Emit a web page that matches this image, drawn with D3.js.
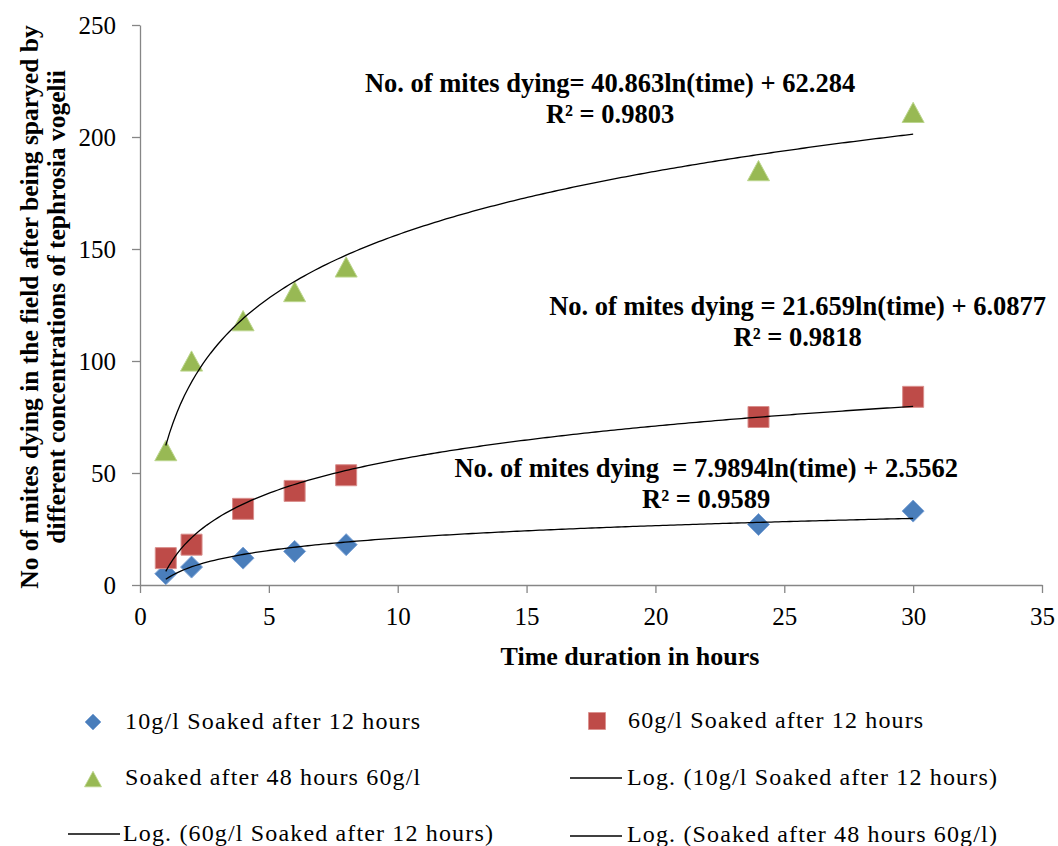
<!DOCTYPE html>
<html>
<head>
<meta charset="utf-8">
<script src="https://cdn.jsdelivr.net/npm/d3@7"></script>
<style>
  html, body { margin: 0; padding: 0; background: #fff; }
  svg { display: block; font-family: "Liberation Serif", "Times New Roman", serif; }
</style>
</head>
<body>
<svg id="chart" width="1058" height="846"></svg>
<script>
// Sampling times (hours)
const hours = [1, 2, 4, 6, 8, 24, 30];

// Mites dying per treatment
const mites10gSoak12 = [5, 8, 12, 15, 18, 27, 33];
const mites60gSoak12 = [12, 18, 34, 42, 49, 75, 84];
const mites60gSoak48 = [60, 100, 118, 131, 142, 185, 211];

// Logarithmic trend coefficients: y = a ln(x) + b
const trendSlope = [7.9894, 21.659, 40.863];
const trendIntercept = [2.5562, 6.0877, 62.284];
const trendR2 = ["0.9589", "0.9818", "0.9803"];

const seriesNames = [
  "10g/l Soaked after 12 hours",
  "60g/l Soaked after 12 hours",
  "Soaked after 48 hours 60g/l"
];
const equationTexts = [
  "No. of mites dying  = 7.9894ln(time) + 2.5562",
  "No. of mites dying = 21.659ln(time) + 6.0877",
  "No. of mites dying= 40.863ln(time) + 62.284"
];

const xTicks = [0, 5, 10, 15, 20, 25, 30, 35];
const yTicks = [0, 50, 100, 150, 200, 250];

const svg = d3.select("#chart");
const plotLeft = 140, plotRight = 1042, plotTop = 25, plotBottom = 585;

const x = d3.scaleLinear().domain([0, 35]).range([plotLeft, plotRight]);
const y = d3.scaleLinear().domain([0, 250]).range([plotBottom, plotTop]);

const axisColor = "#868686";

// Axes
const gx = svg.append("g").attr("transform", `translate(0,${plotBottom})`)
  .call(d3.axisBottom(x).tickValues(xTicks).tickSizeInner(8).tickSizeOuter(0).tickPadding(14));
const gy = svg.append("g").attr("transform", `translate(${plotLeft},0)`)
  .call(d3.axisLeft(y).tickValues(yTicks).tickSizeInner(8).tickSizeOuter(0).tickPadding(16));
[gx, gy].forEach(g => {
  g.select(".domain").attr("stroke", axisColor).attr("stroke-width", 1.3);
  g.selectAll(".tick line").attr("stroke", axisColor).attr("stroke-width", 1.3);
  g.selectAll(".tick text").attr("fill", "#000")
    .style("font-family", '"Liberation Serif", serif').style("font-size", "25px");
});

// Axis titles
svg.append("text")
  .attr("x", (plotLeft + plotRight) / 2 + 39).attr("y", 665)
  .attr("text-anchor", "middle")
  .style("font-weight", "bold").style("font-size", "26px")
  .text("Time duration in hours");

const yTitle = svg.append("text")
  .attr("transform", `translate(0,${(plotTop + plotBottom) / 2 + 2}) rotate(-90)`)
  .attr("text-anchor", "middle")
  .style("font-weight", "bold").style("font-size", "25.5px");
yTitle.append("tspan").attr("x", 0).attr("y", 38)
  .text("No of mites dying in the field after being sparyed by");
yTitle.append("tspan").attr("x", 0).attr("y", 65)
  .text("different concentrations of tephrosia vogelii");

// Marker shapes
const colors = ["#4a7ebb", "#be4b48", "#98b954"];
const strokes = ["#7da3d6", "#d98e8c", "#bcd68e"];
function markerPath(kind, s) {
  const h = s / 2;
  if (kind === 0) return `M0,${-h}L${h},0L0,${h}L${-h},0Z`;
  if (kind === 1) return `M${-h},${-h}H${h}V${h}H${-h}Z`;
  const th = s * 0.46;
  return `M0,${-th}L${h},${th}L${-h},${th}Z`;
}

const seriesValues = [mites10gSoak12, mites60gSoak12, mites60gSoak48];
const plot = svg.append("g");
seriesValues.forEach((vals, i) => {
  plot.append("g").selectAll("path")
    .data(hours.map((h, j) => [h, vals[j]]))
    .join("path")
    .attr("transform", d => `translate(${x(d[0])},${y(d[1])})`)
    .attr("d", markerPath(i, i === 1 ? 21 : 22))
    .attr("fill", colors[i])
    .attr("stroke", strokes[i]).attr("stroke-width", 1);
});

// Logarithmic trend lines
const line = d3.line().x(d => x(d[0])).y(d => y(d[1]));
const xs = d3.range(0, 201).map(k => 1 + (30 - 1) * k / 200);
trendSlope.forEach((a, i) => {
  const b = trendIntercept[i];
  plot.append("path")
    .datum(xs.map(t => [t, a * Math.log(t) + b]))
    .attr("d", line)
    .attr("fill", "none").attr("stroke", "#000").attr("stroke-width", 1.3);
});

// Trend equations (anchored in data units: centre x, baseline y)
const eqAnchors = [[21.97, 48.0], [25.52, 120.5], [18.24, 220.0]];
equationTexts.forEach((t, i) => {
  const [cx, cy] = eqAnchors[i];
  const g = svg.append("text")
    .attr("text-anchor", "middle")
    .style("font-weight", "bold").style("font-size", "26.5px")
    .attr("xml:space", "preserve")
    .style("white-space", "pre");
  g.append("tspan").attr("x", x(cx)).attr("y", y(cy)).text(t);
  g.append("tspan").attr("x", x(cx)).attr("y", y(cy) + 31).text("R² = " + trendR2[i]);
});

// Legend
const legend = svg.append("g").style("font-size", "24px").style("letter-spacing", "1.15px");
const legendItems = [
  { type: 0, label: seriesNames[0], mx: 93, tx: 125, cy: 722, by: 729 },
  { type: 1, label: seriesNames[1], mx: 597, tx: 628, cy: 721, by: 728 },
  { type: 2, label: seriesNames[2], mx: 93, tx: 125, cy: 779, by: 785 },
  { type: "line", label: "Log. (" + seriesNames[0] + ")", mx: 570, tx: 627, cy: 778, by: 785 },
  { type: "line", label: "Log. (" + seriesNames[1] + ")", mx: 68, tx: 123, cy: 834, by: 841 },
  { type: "line", label: "Log. (" + seriesNames[2] + ")", mx: 570, tx: 627, cy: 836, by: 842 }
];
legendItems.forEach(d => {
  if (d.type === "line") {
    legend.append("line").attr("x1", d.mx).attr("x2", d.mx + 52)
      .attr("y1", d.cy).attr("y2", d.cy)
      .attr("stroke", "#000").attr("stroke-width", 1.3);
  } else {
    legend.append("path")
      .attr("transform", `translate(${d.mx},${d.cy})`)
      .attr("d", markerPath(d.type, d.type === 0 ? 16 : 17))
      .attr("fill", colors[d.type]).attr("stroke", strokes[d.type]).attr("stroke-width", 0.8);
  }
  legend.append("text").attr("x", d.tx).attr("y", d.by).text(d.label);
});
</script>
</body>
</html>
